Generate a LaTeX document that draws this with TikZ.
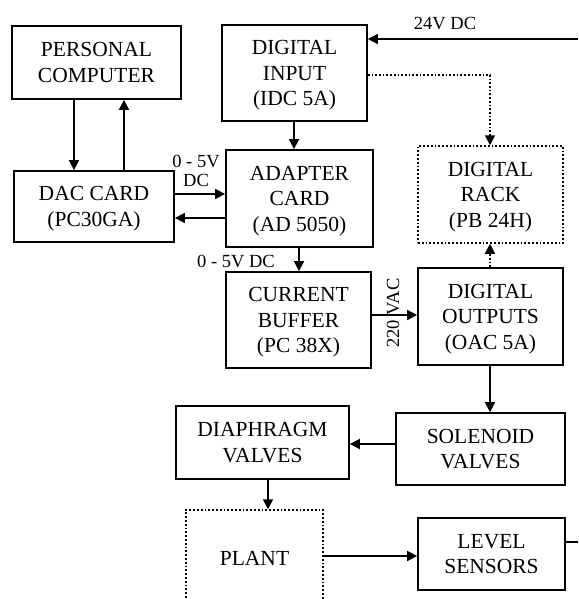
\documentclass[tikz,border=0pt]{standalone}
\usepackage{fontspec}
\setmainfont{Liberation Serif}
\usetikzlibrary{arrows.meta, positioning}
\tikzstyle{block} = [rectangle, draw=black, line width=1.8pt, inner sep=0pt, align=center, text depth=0pt, font=\fontsize{21.5}{25.5}\selectfont]
\tikzstyle{dotblock} = [block, dotted, line width=1.5pt]
\tikzstyle{arrow} = [line width=1.7pt, -{Triangle[length=10pt,width=10pt]}]
\tikzstyle{dotarrow} = [arrow, dotted, line width=1.5pt]
\tikzstyle{lbl} = [font=\fontsize{18.5}{19.5}\selectfont, align=center, inner sep=0pt]

\begin{document}
\begin{tikzpicture}[x=1pt, y=-1pt]
\clip (0,0) rectangle (578,599);

% Blocks
\node (pc) [block, minimum width=169pt, minimum height=73pt] at (96.5,62.5) {PERSONAL\\COMPUTER};
\node (dac) [block, minimum width=160pt, minimum height=71pt] at (94,206.5) {DAC CARD\\(PC30GA)};
\node (input) [block, minimum width=145pt, minimum height=96pt] at (294.5,73) {DIGITAL\\INPUT\\(IDC 5A)};
\node (adapter) [block, minimum width=147pt, minimum height=97pt] at (299.5,198.5) {ADAPTER\\CARD\\(AD 5050)};
\node (rack) [dotblock, minimum width=145pt, minimum height=97pt] at (490.5,194.5) {DIGITAL\\RACK\\(PB 24H)};
\node (buffer) [block, minimum width=145pt, minimum height=96pt] at (298.5,320) {CURRENT\\BUFFER\\(PC 38X)};
\node (outputs) [block, minimum width=145pt, minimum height=97pt] at (490.5,316.5) {DIGITAL\\OUTPUTS\\(OAC 5A)};
\node (diaphragm) [block, minimum width=173pt, minimum height=73pt] at (262.5,442.5) {DIAPHRAGM\\VALVES};
\node (solenoid) [block, minimum width=169pt, minimum height=72pt] at (480.5,449) {SOLENOID\\VALVES};
\node (plant) [dotblock, minimum width=137pt, minimum height=96pt] at (254.5,558) {PLANT};
\node (level) [block, minimum width=147pt, minimum height=72pt] at (491.5,554) {LEVEL\\SENSORS};

\coordinate (supply) at (578,39);
\coordinate (sensout) at (578,542);

% Connections
\draw [arrow] (pc.south -| 74,0) -- (dac.north -| 74,0);
\draw [arrow] (dac.north -| 124,0) -- (pc.south -| 124,0);
\draw [arrow] (dac.east |- 0,194) -- (adapter.west |- 0,194);
\draw [arrow] (adapter.west |- 0,218) -- (dac.east |- 0,218);
\node (lbla) [lbl] at (196,171) {0 - 5V\\DC};
\draw [arrow] (input.south -| 294,0) -- (adapter.north -| 294,0);
\draw [arrow] (supply) -- (input.east |- supply);
\node (lblb) [lbl] at (445,24) {24V DC};
\draw [dotarrow] (input.east |- 0,75) -| (rack.north -| 490,0);
\draw [arrow] (adapter.south -| 299,0) -- (buffer.north -| 299,0);
\node (lblc) [lbl] at (236,261) {0 - 5V DC};
\draw [arrow] (buffer.east |- 0,315) -- (outputs.west |- 0,315);
\node (lbld) [lbl, rotate=90] at (393,313) {220 VAC};
\draw [dotarrow] (outputs.north -| 490,0) -- (rack.south -| 490,0);
\draw [arrow] (outputs.south -| 490,0) -- (solenoid.north -| 490,0);
\draw [arrow] (solenoid.west |- 0,444) -- (diaphragm.east |- 0,444);
\draw [arrow] (diaphragm.south -| 268,0) -- (plant.north -| 268,0);
\draw [arrow] (plant.east |- 0,556) -- (level.west |- 0,556);
\draw [line width=1.7pt] (level.east |- sensout) -- (sensout);

\end{tikzpicture}
\end{document}
